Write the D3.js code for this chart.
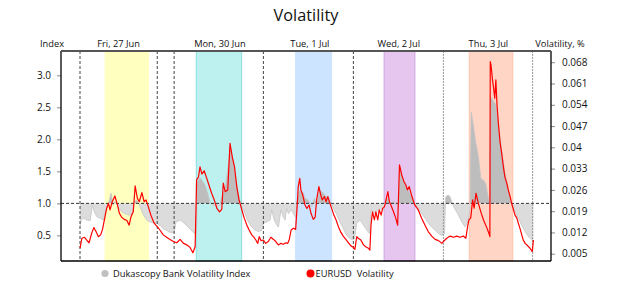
<!DOCTYPE html>
<html>
<head>
<meta charset="utf-8">
<script src="https://cdn.jsdelivr.net/npm/d3@7"></script>
<style>
  body { margin: 0; background: #fff; }
  text { font-family: "Open Sans", "Noto Sans", sans-serif; fill: #111; }
</style>
</head>
<body>
<div id="chart"></div>
<script>
// ---------------------------------------------------------------
// Volatility chart: Dukascopy index (left axis) vs EURUSD vol (right)
// x axis = hours from start of Fri 27 Jun
// ---------------------------------------------------------------

// EURUSD volatility, %  (right axis)
var eurusdHours = [
  0, 0.5, 1.2, 1.8, 2.4, 3.1, 3.7, 4.3, 4.9, 5.5,
  6.0, 6.5, 7.1, 7.6, 8.0, 8.6, 9.3, 10.0, 10.5, 11.1,
  11.8, 12.5, 13.1, 13.6, 14.2, 14.7, 15.3, 15.8, 16.5, 17.1,
  17.6, 18.2, 18.9, 19.6, 20.2, 20.6, 21.3, 22.2, 23.1, 24.0,
  24.9, 25.8, 26.7, 27.6, 28.5, 29.3, 30.1, 30.7, 31.1, 31.6,
  32.0, 32.5, 33.1, 33.8, 34.5, 35.1, 35.8, 36.5, 37.2, 37.8,
  38.2, 38.7, 39.4, 40.0, 40.6, 41.2, 41.8, 42.4, 43.3, 43.8,
  44.5, 45.1, 45.8, 46.4, 46.9, 47.4, 47.8, 48.3, 48.9, 49.5,
  50.2, 50.9, 51.6, 52.2, 52.9, 53.5, 54.2, 54.9, 55.4, 55.8,
  56.3, 56.9, 57.5, 57.9, 58.2, 58.6, 58.9, 59.4, 60.0, 60.5,
  61.1, 61.6, 62.2, 62.7, 63.1, 63.7, 64.2, 64.6, 65.2, 65.6,
  66.1, 66.5, 67.1, 67.7, 68.3, 68.9, 69.5, 70.2, 70.9, 71.6,
  72.3, 72.9, 73.3, 73.8, 74.2, 74.9, 75.6, 76.2, 76.9, 77.3,
  77.6, 78.0, 78.5, 78.9, 79.4, 79.8, 80.3, 80.7, 81.2, 81.6,
  82.1, 82.5, 82.9, 83.6, 84.2, 84.7, 85.2, 85.8, 86.4, 86.9,
  87.3, 87.8, 88.5, 89.3, 90.2, 91.1, 92.0, 92.9, 93.8, 94.7,
  95.6, 96.5, 96.9, 97.8, 98.7, 99.6, 100.5, 101.3, 102.2, 102.9,
  103.3, 103.7, 104.2, 104.7, 105.1, 105.6, 106.2, 106.9, 107.6, 108.5,
  109.1, 109.3, 109.4, 109.6, 110.0, 110.3, 110.6, 110.9, 111.2, 111.6,
  112.0, 112.5, 112.9, 113.3, 113.8, 114.2, 114.7, 115.1, 115.6, 116.0,
  116.5, 116.9, 117.3, 117.8, 118.2, 118.7, 119.4, 120.0, 120.6, 120.9
];
var eurusdVol = [
  0.0068, 0.0101, 0.0104, 0.0095, 0.0086, 0.0117, 0.0136, 0.0122, 0.0106, 0.0112,
  0.0130, 0.0161, 0.0199, 0.0216, 0.0194, 0.0221, 0.0240, 0.0210, 0.0183, 0.0170,
  0.0163, 0.0159, 0.0144, 0.0172, 0.0188, 0.0273, 0.0232, 0.0221, 0.0251, 0.0221,
  0.0227, 0.0205, 0.0177, 0.0155, 0.0144, 0.0139, 0.0128, 0.0112, 0.0104, 0.0097,
  0.0090, 0.0086, 0.0097, 0.0084, 0.0079, 0.0071, 0.0053, 0.0073, 0.0293, 0.0303,
  0.0336, 0.0312, 0.0323, 0.0298, 0.0271, 0.0249, 0.0227, 0.0199, 0.0188, 0.0196,
  0.0282, 0.0254, 0.0260, 0.0413, 0.0369, 0.0336, 0.0271, 0.0227, 0.0188, 0.0167,
  0.0144, 0.0128, 0.0112, 0.0104, 0.0095, 0.0084, 0.0106, 0.0093, 0.0095, 0.0084,
  0.0090, 0.0104, 0.0097, 0.0090, 0.0079, 0.0084, 0.0081, 0.0086, 0.0084, 0.0097,
  0.0128, 0.0134, 0.0130, 0.0205, 0.0271, 0.0298, 0.0260, 0.0243, 0.0210, 0.0199,
  0.0210, 0.0183, 0.0163, 0.0170, 0.0227, 0.0271, 0.0243, 0.0227, 0.0238, 0.0221,
  0.0238, 0.0221, 0.0199, 0.0177, 0.0161, 0.0139, 0.0122, 0.0108, 0.0097, 0.0086,
  0.0075, 0.0071, 0.0064, 0.0106, 0.0101, 0.0095, 0.0079, 0.0073, 0.0068, 0.0062,
  0.0144, 0.0188, 0.0161, 0.0188, 0.0161, 0.0194, 0.0177, 0.0199, 0.0205, 0.0227,
  0.0254, 0.0221, 0.0210, 0.0188, 0.0167, 0.0144, 0.0342, 0.0309, 0.0287, 0.0276,
  0.0260, 0.0271, 0.0238, 0.0210, 0.0194, 0.0167, 0.0144, 0.0122, 0.0108, 0.0097,
  0.0093, 0.0084, 0.0090, 0.0101, 0.0108, 0.0104, 0.0108, 0.0104, 0.0108, 0.0101,
  0.0135, 0.0161, 0.0168, 0.0227, 0.0200, 0.0249, 0.0217, 0.0187, 0.0161, 0.0135,
  0.0115, 0.0106, 0.0682, 0.0671, 0.0622, 0.0594, 0.0562, 0.0622, 0.0540, 0.0474,
  0.0419, 0.0375, 0.0336, 0.0303, 0.0282, 0.0260, 0.0238, 0.0216, 0.0194, 0.0177,
  0.0167, 0.0150, 0.0134, 0.0112, 0.0095, 0.0084, 0.0076, 0.0068, 0.0057, 0.0095
];

// Dukascopy Bank Volatility Index (left axis)
var indexHours = [
  0, 0.3, 0.9, 1.8, 2.7, 3.3, 3.8, 4.5, 5.3, 6.2,
  6.9, 7.6, 8.3, 8.8, 9.3, 10.2, 11.1, 12.0, 12.9, 13.8,
  14.5, 15.1, 16.0, 16.9, 17.8, 18.7, 19.6, 20.5, 21.3, 22.1,
  24.0, 25.1, 25.6, 26.7, 28.0, 29.3, 30.7, 31.1, 31.2, 32.0,
  32.5, 33.3, 34.2, 34.7, 35.6, 36.5, 37.3, 37.8, 38.7, 39.2,
  39.6, 40.2, 40.9, 41.8, 42.4, 43.1, 44.0, 44.9, 45.8, 46.7,
  47.6, 48.5, 48.9, 49.8, 50.7, 51.1, 51.8, 52.5, 52.9, 53.6,
  54.2, 54.7, 55.1, 55.6, 56.3, 56.9, 57.5, 57.9, 58.6, 58.9,
  59.6, 60.0, 60.9, 61.8, 62.5, 63.1, 64.0, 64.9, 65.8, 66.7,
  67.6, 68.5, 69.3, 70.2, 71.1, 72.0, 72.7, 73.2, 73.8, 74.7,
  75.6, 76.5, 77.2, 77.6, 78.2, 79.1, 80.0, 80.9, 81.8, 82.7,
  83.6, 84.5, 84.9, 85.2, 85.9, 86.7, 87.5, 88.5, 89.3, 90.2,
  91.1, 92.0, 92.9, 93.8, 94.7, 95.6, 96.5, 97.2, 97.5, 98.2,
  98.7, 99.1, 99.6, 100.9, 101.8, 102.7, 103.4, 104.0, 104.3, 104.9,
  105.5, 106.2, 106.9, 107.6, 108.2, 108.9, 109.2, 109.4, 109.8, 110.3,
  110.9, 111.6, 112.5, 113.3, 114.2, 114.9, 115.6, 116.0, 116.9, 117.8,
  118.7, 119.6, 120.5, 120.9
];
var indexValues = [
  0.63, 0.74, 0.77, 0.74, 0.73, 0.97, 0.87, 0.79, 0.77, 0.74,
  0.90, 1.00, 1.16, 0.97, 1.03, 0.95, 0.87, 0.84, 0.82, 0.82,
  1.03, 1.05, 0.95, 0.82, 0.74, 0.71, 0.69, 0.69, 0.66, 0.61,
  0.55, 0.54, 0.71, 0.74, 0.68, 0.60, 0.52, 0.50, 1.32, 1.40,
  1.36, 1.29, 1.13, 1.00, 0.97, 0.95, 0.97, 1.10, 1.23, 1.44,
  1.63, 1.83, 1.63, 1.31, 1.10, 0.97, 0.84, 0.71, 0.63, 0.58,
  0.56, 0.58, 0.69, 0.71, 0.74, 0.90, 0.74, 0.66, 0.63, 0.90,
  0.79, 0.74, 0.92, 0.84, 0.90, 0.84, 0.78, 1.05, 1.21, 1.18,
  1.16, 1.08, 1.05, 0.95, 1.08, 0.97, 1.21, 1.16, 1.10, 1.03,
  0.92, 0.82, 0.71, 0.61, 0.50, 0.45, 0.43, 0.45, 0.69, 0.74,
  0.66, 0.58, 0.53, 0.90, 0.84, 0.87, 0.92, 0.90, 1.10, 1.00,
  1.03, 0.97, 0.95, 1.52, 1.40, 1.29, 1.21, 1.08, 1.00, 0.92,
  0.84, 0.77, 0.69, 0.63, 0.58, 0.53, 0.50, 0.53, 1.10, 1.13,
  1.10, 1.03, 0.95, 0.82, 0.71, 0.63, 0.71, 0.90, 2.43, 2.22,
  1.96, 1.75, 1.39, 1.36, 1.31, 1.08, 1.03, 2.67, 2.64, 2.59,
  2.54, 2.22, 1.81, 1.49, 1.23, 1.03, 0.92, 0.87, 0.77, 0.66,
  0.56, 0.48, 0.43, 0.40
];

// trading sessions (shaded), day labels, separators
var sessionStart = [6.7, 31.0, 57.5, 81.1, 103.8];
var sessionEnd   = [18.3, 43.1, 67.1, 89.3, 115.4];
var sessionFill  = ["#ffffc0", "#bdf1f0", "#cce4ff", "#e6c6ef", "#ffd6c6"];
var sessionEdge  = ["#ffffc0", "#86e0dc", "#cce4ff", "#cfa3e0", "#ffc2ac"];
var dayLabels    = ["Fri, 27 Jun", "Mon, 30 Jun", "Tue, 1 Jul", "Wed, 2 Jul", "Thu, 3 Jul"];
var dayLabelHour = [10.3, 37.3, 61.3, 85.0, 108.9];
var separatorHours = [0, 20.6, 25.1, 48.9, 72.9, 96.9, 120.7];
var separatorLight = [false, false, false, false, false, true, true];

var indexTicks = [0.5, 1.0, 1.5, 2.0, 2.5, 3.0];
var volTicks = [0.005, 0.012, 0.019, 0.026, 0.033, 0.04, 0.047, 0.054, 0.061, 0.068];
var volTickLabels = ["0.005", "0.012", "0.019", "0.026", "0.033", "0.04", "0.047", "0.054", "0.061", "0.068"];

// Dimensiones
var W = 625, H = 281;
var margin = {top: 51, right: 74, bottom: 20, left: 61},
    width = W - margin.left - margin.right,
    height = H - margin.top - margin.bottom;

var x = d3.scaleLinear().domain([-5.07, 125.6]).range([0, width]);
var yL = d3.scaleLinear().domain([0.1, 3.38]).range([height, 0]);
var yR = d3.scaleLinear().domain([0.0026, 0.0717]).range([height, 0]);

var svg = d3.select("#chart").append("svg")
    .attr("width", W)
    .attr("height", H);

// titulo
svg.append("text")
    .attr("x", 306).attr("y", 21)
    .attr("text-anchor", "middle")
    .style("font-size", "16.3px")
    .text("Volatility");

var vis = svg.append("g")
    .attr("transform", "translate(" + margin.left + "," + margin.top + ")");

// clips above / below the 1.0 line
var defs = svg.append("defs");
defs.append("clipPath").attr("id", "above")
  .append("rect").attr("x", 0).attr("y", 0).attr("width", width).attr("height", yL(1));
defs.append("clipPath").attr("id", "below")
  .append("rect").attr("x", 0).attr("y", yL(1)).attr("width", width).attr("height", height - yL(1));

// sessions
vis.selectAll("rect.session")
    .data(sessionStart)
  .enter().append("rect")
    .attr("class", "session")
    .attr("x", function(d) { return x(d); })
    .attr("y", 0)
    .attr("width", function(d, i) { return x(sessionEnd[i]) - x(d); })
    .attr("height", height)
    .style("fill", function(d, i) { return sessionFill[i]; })
    .style("stroke", function(d, i) { return sessionEdge[i]; })
    .style("stroke-width", 1);

// index area
var idx = indexHours.map(function(h, i) { return {h: h, v: indexValues[i]}; });
var area = d3.area()
    .x(function(d) { return x(d.h); })
    .y0(yL(1))
    .y1(function(d) { return yL(d.v); });

vis.append("path")
    .attr("d", area(idx))
    .attr("clip-path", "url(#below)")
    .style("fill", "#dcdcdc");
vis.append("path")
    .attr("d", area(idx))
    .attr("clip-path", "url(#above)")
    .style("fill", "#bdbdbd");
vis.append("path")
    .attr("d", d3.line().x(function(d) { return x(d.h); }).y(function(d) { return yL(d.v); })(idx))
    .style("fill", "none")
    .style("stroke", "#c4c4c4")
    .style("stroke-width", 0.8);

// separators
vis.selectAll("line.sep")
    .data(separatorHours)
  .enter().append("line")
    .attr("class", "sep")
    .attr("x1", function(d) { return x(d); })
    .attr("x2", function(d) { return x(d); })
    .attr("y1", 0).attr("y2", height)
    .style("stroke", function(d, i) { return separatorLight[i] ? "#999" : "#444"; })
    .style("stroke-width", 1)
    .style("stroke-dasharray", function(d, i) { return separatorLight[i] ? "2,1" : "3,2"; });

// linea 1.0
vis.append("line")
    .attr("x1", 0).attr("x2", width)
    .attr("y1", yL(1)).attr("y2", yL(1))
    .style("stroke", "#333")
    .style("stroke-width", 1)
    .style("stroke-dasharray", "3,2");

// EURUSD line
var vol = eurusdHours.map(function(h, i) { return {h: h, v: eurusdVol[i]}; });
vis.append("path")
    .attr("d", d3.line().x(function(d) { return x(d.h); }).y(function(d) { return yR(d.v); })(vol))
    .style("fill", "none")
    .style("stroke", "#ff0000")
    .style("stroke-width", 1.2)
    .style("stroke-linejoin", "round");

// axes
var leftAxis = d3.axisLeft(yL).tickValues(indexTicks).tickFormat(d3.format(".1f"))
    .tickSizeInner(4).tickSizeOuter(0).tickPadding(6);
var rightAxis = d3.axisRight(yR).tickValues(volTicks)
    .tickFormat(function(d, i) { return volTickLabels[i]; })
    .tickSizeInner(4).tickSizeOuter(0).tickPadding(7);

var gl = vis.append("g").attr("class", "axis").call(leftAxis);
var gr = vis.append("g").attr("class", "axis").attr("transform", "translate(" + width + ",0)").call(rightAxis);
[gl, gr].forEach(function(g) {
  g.select(".domain").remove();
  g.selectAll(".tick line").style("stroke", "#888");
  g.selectAll(".tick text").style("font-size", "10px").style("font-family", "'Open Sans', sans-serif").style("fill", "#111");
});

// frame
vis.append("line").attr("x1", 0).attr("x2", 0).attr("y1", 0).attr("y2", height).style("stroke", "#000").style("stroke-width", 1.3);
vis.append("line").attr("x1", width).attr("x2", width).attr("y1", 0).attr("y2", height).style("stroke", "#000").style("stroke-width", 1.3);
vis.append("line").attr("x1", 0).attr("x2", width).attr("y1", height).attr("y2", height).style("stroke", "#000").style("stroke-width", 1.3);
vis.append("line").attr("x1", 0).attr("x2", width).attr("y1", 0).attr("y2", 0).style("stroke", "#555").style("stroke-width", 2);

// headers
svg.append("text").attr("x", 52).attr("y", 46.5).attr("text-anchor", "middle")
    .style("font-size", "9.3px").text("Index");
svg.append("text").attr("x", 560).attr("y", 46.5).attr("text-anchor", "middle")
    .style("font-size", "9.3px").text("Volatility, %");
vis.selectAll("text.day")
    .data(dayLabels)
  .enter().append("text")
    .attr("class", "day")
    .attr("x", function(d, i) { return x(dayLabelHour[i]); })
    .attr("y", -4.5)
    .attr("text-anchor", "middle")
    .style("font-size", "9.3px")
    .text(function(d) { return d; });

// legend
var legend = [
  {label: "Dukascopy Bank Volatility Index", color: "#c0c0c0", cx: 105},
  {label: "EURUSD  Volatility", color: "#ff0000", cx: 310.5}
];
legend.forEach(function(l, i) {
  svg.append("circle").attr("cx", l.cx).attr("cy", 273.5).attr("r", i ? 4 : 3.6).style("fill", l.color);
  svg.append("text").attr("x", l.cx + (i ? 5 : 8)).attr("y", 277)
      .style("font-size", "9.3px")
      .attr("xml:space", "preserve")
      .text(l.label);
});
</script>
</body>
</html>
